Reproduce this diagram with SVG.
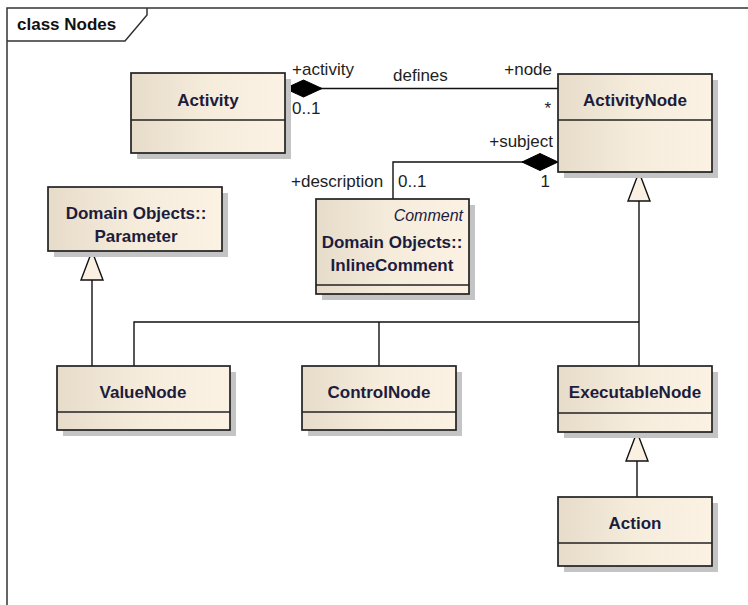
<svg xmlns="http://www.w3.org/2000/svg" width="748" height="605" viewBox="0 0 748 605">
<style>
.box{fill:url(#g);stroke:#222;stroke-width:1.7}
.sh{fill:#c4c4c4}
.div{stroke:#222;stroke-width:1.7}
.name{font-family:"Liberation Sans",Arial,sans-serif;font-weight:bold;font-size:17px;fill:#1c1c3c;text-anchor:middle}
.lbl{font-family:"Liberation Sans",Arial,sans-serif;font-size:17px;fill:#1e1e1e}
.ln{fill:none;stroke:#111;stroke-width:1.4}
.tri{fill:#faf1e3;stroke:#111;stroke-width:1.4}
.dia{fill:#000;stroke:#000;stroke-width:1}
</style>
<defs>
<linearGradient id="g" x1="0" y1="0" x2="1" y2="0">
<stop offset="0" stop-color="#e7dcca"/>
<stop offset="0.5" stop-color="#f6ecdc"/>
<stop offset="1" stop-color="#fbf2e4"/>
</linearGradient>
</defs>
<rect width="748" height="605" fill="#fff"/>
<g id="frame">
<path d="M7,605 V8 H748" fill="none" stroke="#333" stroke-width="1.5"/>
<path d="M7,41 H125 L147,15 V8" fill="none" stroke="#333" stroke-width="1.5"/>
<text x="17" y="30" font-family="Liberation Sans,Arial,sans-serif" font-weight="bold" font-size="17" fill="#111">class Nodes</text>
</g>
<g id="connectors">
<line class="ln" x1="285" y1="88.5" x2="558" y2="88.5"/>
<polygon class="dia" points="285,88.5 303.5,80 322,88.5 303.5,97"/>
<polyline class="ln" points="558,162 393,162 393,199"/>
<polygon class="dia" points="558,162 540,153.5 522,162 540,170.5"/>
<line class="ln" x1="92" y1="280" x2="92" y2="366"/>
<polygon class="tri" points="92,251 81,280 103,280"/>
<line class="ln" x1="639" y1="201" x2="639" y2="366"/>
<polygon class="tri" points="639,172 628,201 650,201"/>
<polyline class="ln" points="134,366 134,322 639,322"/>
<line class="ln" x1="379" y1="322" x2="379" y2="366"/>
<line class="ln" x1="637" y1="461" x2="637" y2="497"/>
<polygon class="tri" points="637,432 626,461 648,461"/>
<text class="lbl" x="292" y="75">+activity</text>
<text class="lbl" x="393" y="81">defines</text>
<text class="lbl" x="552" y="75" text-anchor="end">+node</text>
<text class="lbl" x="292" y="114">0..1</text>
<text class="lbl" x="551" y="114" text-anchor="end">*</text>
<text class="lbl" x="553" y="147" text-anchor="end">+subject</text>
<text class="lbl" x="550" y="187" text-anchor="end">1</text>
<text class="lbl" x="291" y="187">+description</text>
<text class="lbl" x="398" y="187">0..1</text>
</g>
<g id="Activity">
<rect class="sh" x="137" y="79" width="154" height="80"/>
<rect class="box" x="131" y="73" width="154" height="80"/>
<line class="div" x1="131" y1="120" x2="285" y2="120"/>
<text class="name" x="208" y="106">Activity</text>
</g>
<g id="ActivityNode">
<rect class="sh" x="564" y="80" width="154" height="98"/>
<rect class="box" x="558" y="74" width="154" height="98"/>
<line class="div" x1="558" y1="120" x2="712" y2="120"/>
<text class="name" x="635" y="106">ActivityNode</text>
</g>
<g id="Parameter">
<rect class="sh" x="54" y="193" width="174" height="64"/>
<rect class="box" x="48" y="187" width="174" height="64"/>
<text class="name" x="136" y="219">Domain Objects::</text>
<text class="name" x="136" y="242">Parameter</text>
</g>
<g id="InlineComment">
<rect class="sh" x="322" y="205" width="153" height="95"/>
<rect class="box" x="316" y="199" width="153" height="95"/>
<line class="div" x1="316" y1="285" x2="469" y2="285"/>
<text x="463" y="221" font-family="Liberation Sans,Arial,sans-serif" font-style="italic" font-size="16" fill="#1c1c3c" text-anchor="end">Comment</text>
<text class="name" x="392" y="248">Domain Objects::</text>
<text class="name" x="392" y="271">InlineComment</text>
</g>
<g id="ValueNode">
<rect class="sh" x="63" y="372" width="173" height="64"/>
<rect class="box" x="57" y="366" width="173" height="64"/>
<line class="div" x1="57" y1="412" x2="230" y2="412"/>
<text class="name" x="143" y="398">ValueNode</text>
</g>
<g id="ControlNode">
<rect class="sh" x="308" y="372" width="154" height="64"/>
<rect class="box" x="302" y="366" width="154" height="64"/>
<line class="div" x1="302" y1="412" x2="456" y2="412"/>
<text class="name" x="379" y="398">ControlNode</text>
</g>
<g id="ExecutableNode">
<rect class="sh" x="564" y="372" width="154" height="66"/>
<rect class="box" x="558" y="366" width="154" height="66"/>
<line class="div" x1="558" y1="413" x2="712" y2="413"/>
<text class="name" x="635" y="398">ExecutableNode</text>
</g>
<g id="Action">
<rect class="sh" x="564" y="503" width="154" height="69"/>
<rect class="box" x="558" y="497" width="154" height="69"/>
<line class="div" x1="558" y1="543" x2="712" y2="543"/>
<text class="name" x="635" y="529">Action</text>
</g>
</svg>
